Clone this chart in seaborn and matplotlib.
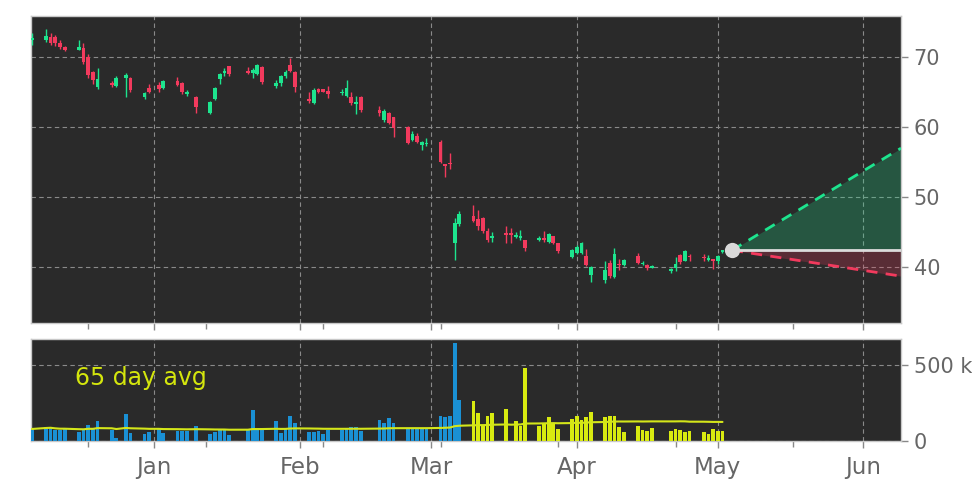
import pandas as pd
import seaborn as sns
import matplotlib.pyplot as plt
import matplotlib.dates as mdates
from matplotlib.ticker import EngFormatter, FixedLocator

# trading calendar (US market holidays removed)
holidays = ["2024-12-25", "2025-01-01", "2025-01-09", "2025-01-20", "2025-02-17", "2025-04-18"]
dates = pd.bdate_range("2024-12-06", "2025-05-02")
dates = dates[~dates.isin(pd.to_datetime(holidays))]

opens = [72.5, 72.4, 72.9, 72.9, 72.0, 71.4, 71.1, 71.3, 70.0, 67.9, 65.7, 66.3, 65.9, 67.0, 67.1, 64.3, 65.6,
         66.0, 65.6, 66.6, 66.3, 64.8, 64.3, 62.0, 64.0, 66.9, 67.7, 68.7, 68.1, 67.7, 67.6, 68.6, 65.9, 66.3, 67.3, 68.9, 67.9,
         64.1, 63.4, 65.4, 65.4, 65.2, 64.9, 64.4, 64.3, 63.3, 64.3, 62.4, 61.0, 62.0, 61.4, 60.0, 58.1, 58.7, 57.4, 57.6,
         57.9, 54.7, 54.9, 43.4, 46.1, 47.3, 46.9, 47.0, 45.1, 44.2, 44.7, 44.7, 44.3, 44.2, 43.8, 43.8, 44.1, 43.6, 44.4, 43.4, 41.4,
         42.0, 42.0, 41.6, 38.9, 38.1, 40.6, 38.6, 40.4, 40.3, 41.6, 40.4, 40.3, 39.9, 39.5, 39.9, 41.7, 40.9, 41.5, 41.35, 41.0, 41.1,
         40.9, 42.1]
highs = [73.4, 74.1, 73.4, 73.2, 72.4, 71.6, 72.5, 72.1, 70.5, 68.0, 68.4, 66.6, 67.3, 67.7, 67.2, 65.1, 66.2,
         66.5, 66.8, 67.2, 66.4, 65.3, 64.4, 63.7, 65.8, 67.7, 68.4, 68.8, 68.6, 68.5, 69.0, 68.8, 66.8, 67.5, 68.2, 69.9, 68.0,
         65.0, 65.6, 65.6, 65.5, 65.9, 65.5, 66.7, 65.0, 64.4, 64.5, 63.0, 62.6, 62.1, 61.5, 60.1, 59.5, 59.2, 58.0, 58.4,
         58.2, 54.8, 56.3, 47.0, 48.0, 48.9, 48.2, 47.2, 45.6, 45.0, 45.9, 45.6, 45.0, 45.3, 43.9, 44.4, 45.1, 44.9, 44.5, 43.5, 42.6,
         43.1, 43.6, 42.6, 40.2, 40.8, 41.0, 42.7, 41.2, 41.1, 42.0, 40.9, 40.5, 40.3, 39.9, 41.5, 41.9, 42.5, 41.9, 41.8, 41.7, 41.2,
         41.7, 42.5]
lows = [71.7, 72.2, 71.7, 71.6, 71.2, 70.9, 71.0, 69.0, 67.0, 66.2, 65.5, 65.8, 65.8, 64.3, 65.0, 64.1, 64.9,
        65.0, 65.4, 65.9, 64.8, 64.5, 62.0, 61.9, 63.9, 66.2, 67.3, 67.3, 67.6, 67.1, 67.5, 66.2, 65.6, 65.9, 67.1, 67.9, 65.0,
        63.4, 63.3, 64.9, 65.0, 64.2, 64.6, 64.3, 63.2, 61.9, 62.2, 61.6, 60.8, 60.5, 58.6, 57.6, 58.0, 57.8, 56.7, 57.3,
        54.9, 52.9, 54.0, 41.0, 45.9, 46.4, 45.3, 44.9, 43.6, 43.6, 43.5, 43.5, 44.1, 43.9, 42.3, 43.7, 43.6, 43.4, 43.3, 42.0, 41.3,
        41.9, 41.9, 40.2, 37.9, 37.7, 38.5, 38.4, 39.6, 40.1, 40.5, 40.3, 39.6, 39.8, 39.1, 39.5, 40.5, 40.8, 40.8, 40.9, 40.8, 39.7,
        40.5, 42.0]
closes = [72.7, 73.1, 72.0, 72.0, 71.4, 71.0, 71.4, 69.3, 67.4, 66.7, 66.9, 66.0, 67.1, 67.4, 65.3, 64.9, 65.0,
          65.4, 66.6, 66.0, 65.0, 64.95, 62.9, 63.6, 65.6, 67.6, 68.0, 67.6, 67.7, 68.2, 68.9, 66.4, 66.3, 67.3, 67.9, 68.1, 65.7,
          63.7, 65.3, 65.1, 65.1, 64.8, 65.1, 65.6, 63.4, 63.6, 62.4, 62.0, 62.3, 60.6, 59.9, 57.7, 59.0, 57.9, 57.9, 57.8,
          55.0, 54.5, 54.7, 46.3, 47.6, 46.6, 45.9, 45.1, 43.9, 44.4, 44.6, 44.6, 44.6, 44.4, 42.7, 44.2, 43.9, 44.7, 43.5, 42.3, 42.4,
          42.9, 43.4, 40.3, 40.0, 39.6, 38.7, 41.9, 40.3, 41.0, 40.6, 40.6, 39.9, 40.2, 39.7, 40.4, 40.7, 42.3, 41.4, 41.25, 41.3, 40.9,
          41.6, 42.4]
volumes = [79, 92, 90, 72, 72, 80, 59, 72, 105, 79, 132, 72, 20, 178, 53, 46, 59,
           79, 53, 66, 66, 66, 99, 46, 59, 72, 72, 39, 79, 204, 72, 85, 132, 53, 85, 164, 118,
           59, 59, 66, 46, 72, 72, 85, 92, 92, 66, 138, 118, 151, 118, 85, 85, 85, 85, 85,
           164, 158, 164, 645, 270, 263, 184, 105, 164, 184, 210, 0, 132, 99, 480, 99, 118, 158, 118, 79, 145,
           164, 138, 158, 191, 158, 164, 164, 92, 59, 99, 72, 66, 85, 66, 79, 72, 59, 66, 59, 46, 79,
           66, 66]

# projection from last close
proj_dates = pd.to_datetime(["2025-05-04", "2025-06-09"])
proj_base = [42.4, 42.4]
proj_high = [42.4, 57.0]
proj_low = [42.4, 38.7]

minor_ticks = pd.to_datetime(["2024-12-18", "2025-01-12", "2025-02-06", "2025-03-03",
                              "2025-03-28", "2025-04-22", "2025-05-17"])
first_recent = pd.Timestamp("2025-03-10")

df = pd.DataFrame({"date": dates, "open": opens, "high": highs, "low": lows,
                   "close": closes, "volume": [v * 1000 for v in volumes]})
df["avg"] = df["volume"].rolling(65, min_periods=1).mean()

UP, DOWN = "#1de48e", "#f23a5d"
BG = "#2a2a2a"
sns.set_theme(style="dark")
plt.rcParams["font.family"] = ["DejaVu Sans"]

fig = plt.figure(figsize=(9.72, 4.86), dpi=100)
fig.patch.set_facecolor("white")
ax = fig.add_axes([0.0319, 0.3354, 0.8951, 0.6317])
axv = fig.add_axes([0.0319, 0.0926, 0.8951, 0.2099], sharex=ax)

# candles
up = df["close"] >= df["open"]
cols = [UP if u else DOWN for u in up]
body_lo = df[["open", "close"]].min(axis=1)
body_h = (df["close"] - df["open"]).abs().clip(lower=0.2)
ax.vlines(df["date"], df["low"], df["high"], color=cols, lw=1, zorder=3)
ax.bar(df["date"], body_h, bottom=body_lo, width=0.8, color=cols, lw=0, edgecolor="none", zorder=4)

# projection cone
ax.fill_between(proj_dates, proj_base, proj_high, color=UP, alpha=0.24, lw=0, zorder=2)
ax.fill_between(proj_dates, proj_low, proj_base, color=DOWN, alpha=0.24, lw=0, zorder=2)
sns.lineplot(x=proj_dates, y=proj_high, ax=ax, color=UP, lw=2, linestyle=(0, (4, 3)), zorder=5)
sns.lineplot(x=proj_dates, y=proj_low, ax=ax, color=DOWN, lw=2, linestyle=(0, (4, 3)), zorder=5)
sns.lineplot(x=proj_dates, y=proj_base, ax=ax, color="#dcdcdc", lw=2, zorder=5)
ax.plot(proj_dates[:1], proj_base[:1], "o", color="#d9d9d9", ms=11, mew=0, zorder=6)

# volume
vcols = ["#1a90d4" if d < first_recent else "#d8ea10" for d in df["date"]]
axv.bar(df["date"], df["volume"], width=0.8, color=vcols, lw=0, edgecolor="none", zorder=3)
sns.lineplot(data=df, x="date", y="avg", ax=axv, color="#d4e61a", lw=1.5, zorder=4)
axv.text(0.05, 0.62, "65 day avg", transform=axv.transAxes, color="#d4e60d",
         fontsize=17, va="center")

for a in (ax, axv):
    a.set_facecolor(BG)
    a.set_xlabel("")
    a.set_ylabel("")
    for s in a.spines.values():
        s.set_color("#c8c8c8")
        s.set_linewidth(1)
    a.yaxis.tick_right()
    a.grid(True, which="major", color="#8a8a8a", lw=0.8, linestyle=(0, (4, 3)))
    a.tick_params(axis="both", which="both", colors="#888888", labelcolor="#666666",
                  bottom=True, right=True, length=5, width=1)
    a.tick_params(axis="y", labelsize=15, pad=4)
    a.tick_params(axis="x", labelsize=16.5, pad=6)
    a.tick_params(axis="x", which="minor", length=4)

ax.set_xlim(pd.Timestamp("2024-12-05 20:00"), pd.Timestamp("2025-06-09"))
ax.xaxis.set_major_locator(mdates.MonthLocator())
ax.xaxis.set_major_formatter(mdates.DateFormatter("%b"))
ax.xaxis.set_minor_locator(FixedLocator(mdates.date2num(minor_ticks)))
ax.tick_params(axis="x", labelbottom=False)

ax.set_ylim(32, 75.9)
ax.set_yticks([40, 50, 60, 70])
axv.set_ylim(0, 671000)
axv.set_yticks([0, 500000])
axv.yaxis.set_major_formatter(EngFormatter())

fig.savefig("out.png", dpi=100, facecolor="white")
